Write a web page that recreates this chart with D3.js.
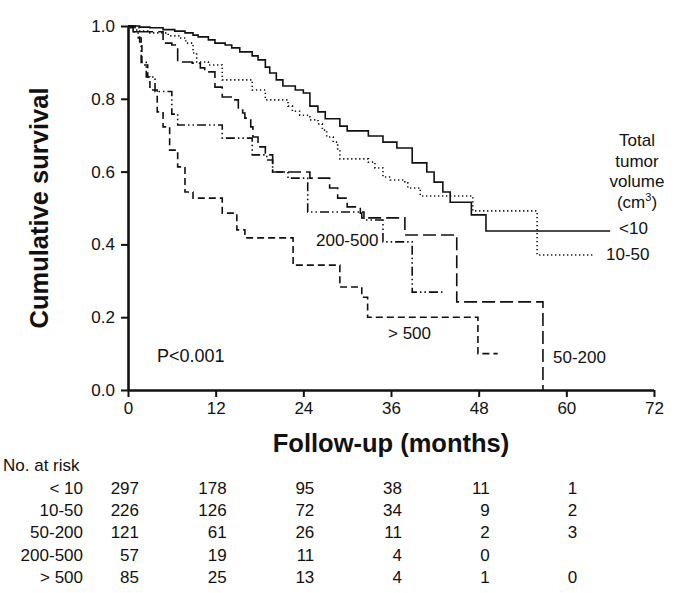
<!DOCTYPE html>
<html>
<head>
<meta charset="utf-8">
<script src="https://cdn.jsdelivr.net/npm/d3@7/dist/d3.min.js"></script>
<style>
  html, body { margin: 0; padding: 0; background: #fff; }
  svg { display: block; font-family: Arial, "Liberation Sans", Helvetica, sans-serif; }
</style>
</head>
<body>
<svg id="chart" width="685" height="593"></svg>
<script>
// ---------- DATA ----------
const groupNames = ["<10", "10-50", "50-200", "200-500", "> 500"];
const xTicks = [0, 12, 24, 36, 48, 60, 72];
const yTicks = [0, 0.2, 0.4, 0.6, 0.8, 1.0];

// Kaplan-Meier steps: [month, cumulative survival]
const survLt10 = [[0,1],[1.6,0.997],[3.0,0.995],[4.8,0.990],[6.4,0.986],[7.8,0.981],[8.9,0.975],[9.6,0.970],[11.0,0.962],[11.9,0.953],[13.3,0.948],[14.2,0.940],[15.3,0.929],[17.0,0.918],[17.8,0.907],[18.8,0.887],[19.4,0.871],[20.3,0.852],[21.2,0.835],[22.9,0.824],[24.0,0.816],[24.9,0.780],[26.0,0.764],[27.0,0.745],[29.0,0.725],[30.0,0.712],[32.9,0.698],[34.9,0.681],[36.8,0.665],[38.9,0.624],[40.9,0.599],[41.9,0.571],[43.1,0.544],[44.1,0.516],[47.0,0.481],[49.0,0.437],[66.0,0.437]];
const surv10to50 = [[0,1],[0.5,0.995],[1.6,0.986],[2.7,0.981],[5.5,0.973],[7.1,0.967],[7.9,0.953],[8.9,0.926],[9.4,0.901],[11.0,0.893],[12.9,0.852],[17.0,0.824],[18.8,0.797],[21.9,0.780],[22.5,0.766],[23.5,0.755],[24.9,0.742],[26.0,0.731],[26.6,0.714],[27.2,0.695],[28.1,0.681],[28.7,0.659],[29.0,0.635],[32.9,0.626],[33.8,0.610],[34.9,0.585],[35.9,0.577],[37.9,0.569],[38.3,0.555],[40.0,0.533],[47.2,0.492],[56.0,0.371],[63.6,0.371]];
const surv50to200 = [[0,1],[0.3,0.995],[0.7,0.984],[4.8,0.953],[6.0,0.948],[6.8,0.901],[8.8,0.898],[9.9,0.885],[10.5,0.874],[11.9,0.832],[12.9,0.805],[14.4,0.797],[15.1,0.769],[15.7,0.761],[16.0,0.747],[16.8,0.723],[17.1,0.695],[17.8,0.668],[18.8,0.646],[19.8,0.599],[24.9,0.582],[27.6,0.555],[28.7,0.527],[30.0,0.503],[31.8,0.486],[32.0,0.473],[37.9,0.426],[45.0,0.242],[56.8,0]];
const surv200to500 = [[0,1],[1.0,0.989],[1.4,0.967],[1.8,0.900],[2.5,0.860],[3.7,0.820],[6.0,0.758],[6.8,0.728],[12.9,0.692],[17.0,0.646],[19.0,0.632],[19.8,0.599],[21.9,0.582],[24.6,0.489],[32.3,0.467],[34.9,0.407],[38.9,0.269],[43.1,0.269]];
const survGt500 = [[0,1],[0.7,0.984],[1.6,0.956],[1.9,0.893],[2.7,0.860],[3.0,0.824],[4.0,0.764],[4.8,0.723],[5.7,0.659],[6.8,0.613],[7.8,0.544],[8.9,0.527],[12.9,0.486],[14.9,0.440],[16.0,0.418],[22.6,0.343],[29.0,0.283],[32.0,0.255],[32.8,0.200],[47.9,0.100],[50.6,0.100]];

// Number at risk table
const riskTimes = [0, 12, 24, 36, 48, 60];
const riskLt10 = [297, 178, 95, 38, 11, 1];
const risk10to50 = [226, 126, 72, 34, 9, 2];
const risk50to200 = [121, 61, 26, 11, 2, 3];
const risk200to500 = [57, 19, 11, 4, 0, null];
const riskGt500 = [85, 25, 13, 4, 1, 0];
const riskLabels = ["< 10", "10-50", "50-200", "200-500", "> 500"];

// ---------- CHART ----------
const svg = d3.select("#chart");
const mLeft = 128, mRight = 654, mTop = 26, mBottom = 390;

const x = d3.scaleLinear().domain([0, 72]).range([mLeft, mRight]);
const y = d3.scaleLinear().domain([0, 1]).range([mBottom, mTop]);

const ink = "#111";

// Axes
const xAxis = d3.axisBottom(x).tickValues(xTicks).tickSize(7).tickPadding(5).tickFormat(d3.format("d"));
const yAxis = d3.axisLeft(y).tickValues(yTicks).tickSize(7).tickPadding(6).tickFormat(d3.format(".1f"));

const gx = svg.append("g").attr("transform", `translate(0,${mBottom})`).call(xAxis);
const gy = svg.append("g").attr("transform", `translate(${mLeft},0)`).call(yAxis);
[gx, gy].forEach(g => {
  g.select(".domain").attr("stroke", ink).attr("stroke-width", 2.6);
  g.selectAll(".tick line").attr("stroke", ink).attr("stroke-width", 2);
  g.selectAll(".tick text").attr("fill", ink).style("font-size", "17px").style("font-family", "Arial, 'Liberation Sans', sans-serif");
});
gx.select(".domain").attr("d", `M${mLeft},0.5H${mRight}`);
gy.select(".domain").attr("d", `M0.5,${mBottom}V${mTop}`);

// Axis titles
svg.append("text")
  .attr("transform", `translate(41,${(mTop + mBottom) / 2}) rotate(-90)`)
  .attr("text-anchor", "middle").attr("dominant-baseline", "middle")
  .style("font-size", "25.5px").style("font-weight", "bold").attr("fill", ink)
  .text("Cumulative survival");
svg.append("text")
  .attr("x", (mLeft + mRight) / 2).attr("y", 445)
  .attr("text-anchor", "middle").attr("dominant-baseline", "middle")
  .style("font-size", "25.5px").style("font-weight", "bold").attr("fill", ink)
  .text("Follow-up (months)");

// Curves
const series = [
  { name: groupNames[0], data: survLt10, dash: null },
  { name: groupNames[1], data: surv10to50, dash: "1.3,2.7" },
  { name: groupNames[2], data: surv50to200, dash: "13,5" },
  { name: groupNames[3], data: surv200to500, dash: "9,3,1.5,3,1.5,3" },
  { name: groupNames[4], data: survGt500, dash: "7,4" }
];
const line = d3.line().x(d => x(d[0])).y(d => y(d[1])).curve(d3.curveStepAfter);
svg.append("g").selectAll("path").data(series).join("path")
  .attr("d", d => line(d.data))
  .attr("fill", "none").attr("stroke", ink)
  .attr("stroke-width", 1.6)
  .attr("stroke-dasharray", d => d.dash);

// Curve labels
const lab = (txt, tx, ty, fs) => svg.append("text")
  .attr("x", tx).attr("y", ty).attr("dominant-baseline", "middle")
  .style("font-size", fs || "17px").attr("fill", ink).text(txt);
lab("<10", 619, 230);
lab("10-50", 606, 256);
lab("50-200", 553, 359);
lab("> 500", 388, 335);
lab("200-500", 316, 242);
lab("P<0.001", 157, 357, "18px");

// Legend title
const lt = svg.append("text").attr("text-anchor", "middle").style("font-size", "17px").attr("fill", ink);
["Total", "tumor", "volume"].forEach((t, i) => {
  lt.append("tspan").attr("x", 637).attr("y", 146 + i * 20.5).text(t);
});
const cm = svg.append("text").attr("x", 637).attr("y", 207.5).attr("text-anchor", "middle")
  .style("font-size", "17px").attr("fill", ink);
cm.append("tspan").text("(cm");
cm.append("tspan").attr("dy", -7).style("font-size", "11px").text("3");
cm.append("tspan").attr("dy", 7).text(")");

// Number at risk table
svg.append("text").attr("x", 3).attr("y", 467).attr("dominant-baseline", "middle")
  .style("font-size", "17px").attr("fill", ink).text("No. at risk");
const riskRows = [riskLt10, risk10to50, risk50to200, risk200to500, riskGt500];
const rowY = [490, 512, 534, 557, 579];
riskRows.forEach((row, i) => {
  svg.append("text").attr("x", 83).attr("y", rowY[i]).attr("text-anchor", "end")
    .attr("dominant-baseline", "middle").style("font-size", "17px").attr("fill", ink)
    .text(riskLabels[i]);
  row.forEach((v, j) => {
    if (v === null) return;
    svg.append("text").attr("x", x(riskTimes[j]) + 11).attr("y", rowY[i])
      .attr("text-anchor", "end").attr("dominant-baseline", "middle")
      .style("font-size", "17px").attr("fill", ink).text(v);
  });
});
</script>
</body>
</html>
